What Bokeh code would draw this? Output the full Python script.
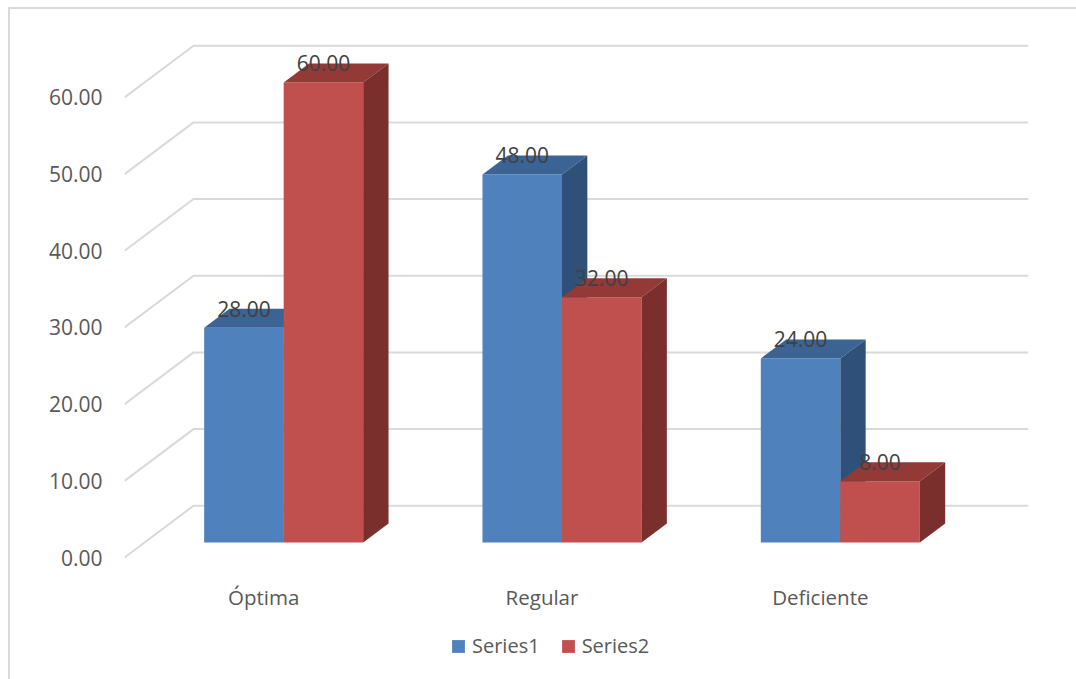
from bokeh.plotting import figure
from bokeh.models import (LinearAxis, FixedTicker, Legend, LegendItem,
                          Range1d, NumeralTickFormatter)
from bokeh.core.properties import value
from bokeh.embed import file_html
from bokeh.resources import INLINE

# ---------------- data ----------------
categories = ["Óptima", "Regular", "Deficiente"]
series_names = ["Series1", "Series2"]
series1 = [28, 48, 24]
series2 = [60, 32, 8]
y_ticks = [0, 10, 20, 30, 40, 50, 60]

# ---------------- style / projection ----------------
FONT = "Open Sans"
DX, DY = 0.248, 6.75        # full depth offset (x in category units, y in value units)
ZF, ZB = 0.29, 0.657        # bar front / back depth fractions
W = 1 / 3.5                 # bar width (gap width 150%)
front_cols = ["#4F81BD", "#C0504D"]
top_cols = ["#3b6394", "#933a37"]
side_cols = ["#2f5179", "#7b2f2d"]

X_END = 3.248
Y_START = -15.91
Y_END = 67.43
CAT_LABEL_Y = -5.09         # category labels sit below the floor

p = figure(frame_width=904, frame_height=639,
           x_range=Range1d(0, X_END), y_range=Range1d(Y_START, Y_END),
           output_backend="svg", toolbar_location=None,
           x_axis_type=None, y_axis_type=None,
           min_border_left=114, min_border_right=48, min_border_top=31, min_border_bottom=0)
p.outline_line_color = None
p.background_fill_color = "white"
p.border_fill_color = "white"
p.styles = {"margin-left": "8px", "margin-top": "7px",
            "border-left": "2px solid #d9d9d9", "border-top": "2px solid #d9d9d9"}

# ---------------- gridlines (back wall + side wall diagonals) ----------------
gx, gy = [], []
for v in y_ticks:
    gx.append([0, DX, X_END])
    gy.append([v, v + DY, v + DY])
p.multi_line(xs=gx, ys=gy, line_color="#d9d9d9", line_width=2)

# ---------------- 3D bars ----------------
legend_items = []
label_x, label_y, label_t = [], [], []
for s, vals in enumerate([series1, series2]):
    fl, fr, fb, ft = [], [], [], []
    txs, tys, sxs, sys_ = [], [], [], []
    for i, v in enumerate(vals):
        c = i + 0.5
        x0 = c - W + s * W + ZF * DX
        x1 = x0 + W
        y0 = ZF * DY
        y1 = v + ZF * DY
        d_x = (ZB - ZF) * DX
        d_y = (ZB - ZF) * DY
        fl.append(x0); fr.append(x1); fb.append(y0); ft.append(y1)
        txs.append([x0, x1, x1 + d_x, x0 + d_x])
        tys.append([y1, y1, y1 + d_y, y1 + d_y])
        sxs.append([x1, x1 + d_x, x1 + d_x, x1])
        sys_.append([y0, y0 + d_y, y1 + d_y, y1])
        label_x.append((x0 + x1) / 2)
        label_y.append(v + ZB * DY)
        label_t.append(f"{v:.2f}")
    r = p.quad(left=fl, right=fr, bottom=fb, top=ft, fill_color=front_cols[s], line_color=None)
    p.patches(xs=txs, ys=tys, fill_color=top_cols[s], line_color=None)
    p.patches(xs=sxs, ys=sys_, fill_color=side_cols[s], line_color=None)
    legend_items.append(LegendItem(label=series_names[s], renderers=[r]))

# data labels
p.text(x=label_x, y=label_y, text=label_t, text_font=value(FONT), text_font_size="21px",
       text_align="center", text_baseline="alphabetic", text_color="#404040")

# category labels (front floor plane)
cat_x = [i + 0.5 for i in range(len(categories))]
p.text(x=cat_x, y=[CAT_LABEL_Y] * len(categories), text=categories,
       text_font=value(FONT), text_font_size="20.5px", text_align="center",
       text_baseline="alphabetic", text_color="#595959")

# ---------------- value axis ----------------
yaxis = LinearAxis(ticker=FixedTicker(ticks=y_ticks), formatter=NumeralTickFormatter(format="0.00"))
yaxis.axis_line_color = None
yaxis.major_tick_line_color = None
yaxis.minor_tick_line_color = None
yaxis.major_tick_out = 0
yaxis.major_tick_in = 0
yaxis.minor_tick_out = 0
yaxis.major_label_standoff = 22
yaxis.major_label_text_font = FONT
yaxis.major_label_text_font_size = "21px"
yaxis.major_label_text_color = "#595959"
p.add_layout(yaxis, "left")

# ---------------- legend ----------------
legend = Legend(items=legend_items, orientation="horizontal", location=(326, 20),
                glyph_width=16, glyph_height=16, label_text_font=FONT,
                label_text_font_size="20px", label_text_color="#595959",
                spacing=20, label_standoff=6, padding=0, margin=0,
                border_line_color=None, background_fill_alpha=0)
p.add_layout(legend)

open("out.html", "w").write(file_html(p, INLINE))
